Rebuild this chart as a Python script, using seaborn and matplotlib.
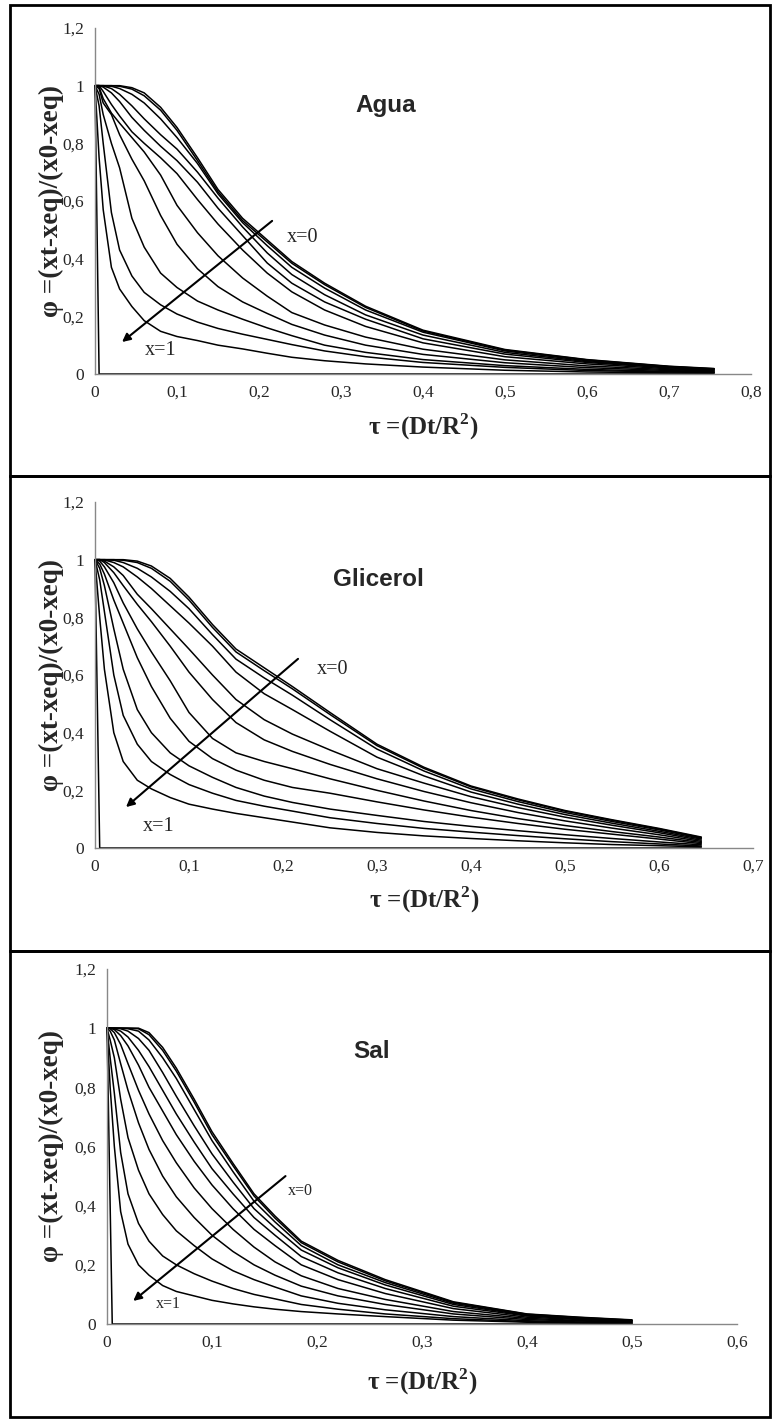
import numpy as np
import pandas as pd
import matplotlib
matplotlib.use("Agg")
import matplotlib.pyplot as plt
from matplotlib.patches import Rectangle
from matplotlib.ticker import FuncFormatter
import seaborn as sns

sns.set_style("white")
plt.rcParams['font.family'] = ['Liberation Serif', 'DejaVu Serif']
plt.rcParams['mathtext.fontset'] = 'custom'
plt.rcParams['mathtext.rm'] = 'Liberation Serif'
plt.rcParams['mathtext.bf'] = 'Liberation Serif:bold'

# ---------- data ----------
# curves from x=0 (top) to x=0.9 (bottom); x=1 is the near-vertical line
agua_tau = [0, 0.005, 0.01, 0.02, 0.03, 0.045, 0.06, 0.08, 0.10, 0.125, 0.15,
            0.18, 0.21, 0.24, 0.28, 0.33, 0.40, 0.50, 0.60, 0.70, 0.755]
agua_phi = [
    [1, 1, 1, 1, 1, 0.993, 0.975, 0.925, 0.855, 0.75, 0.64, 0.54, 0.465, 0.39, 0.315, 0.235, 0.152, 0.085, 0.05, 0.027, 0.019],
    [1, 1, 1, 1, 0.998, 0.988, 0.965, 0.915, 0.845, 0.74, 0.632, 0.532, 0.458, 0.384, 0.31, 0.231, 0.149, 0.083, 0.049, 0.026, 0.018],
    [1, 1, 1, 0.998, 0.99, 0.97, 0.94, 0.885, 0.82, 0.73, 0.625, 0.525, 0.445, 0.37, 0.298, 0.222, 0.145, 0.08, 0.046, 0.025, 0.017],
    [1, 1, 0.999, 0.99, 0.97, 0.93, 0.885, 0.83, 0.78, 0.70, 0.61, 0.51, 0.42, 0.345, 0.275, 0.205, 0.135, 0.075, 0.043, 0.023, 0.016],
    [1, 1, 0.995, 0.975, 0.945, 0.89, 0.845, 0.79, 0.74, 0.665, 0.575, 0.48, 0.385, 0.315, 0.25, 0.19, 0.122, 0.069, 0.04, 0.021, 0.014],
    [1, 1, 0.98, 0.935, 0.895, 0.84, 0.8, 0.75, 0.695, 0.605, 0.52, 0.43, 0.35, 0.285, 0.222, 0.165, 0.108, 0.06, 0.035, 0.018, 0.012],
    [1, 0.995, 0.955, 0.905, 0.87, 0.82, 0.77, 0.69, 0.585, 0.49, 0.41, 0.333, 0.27, 0.213, 0.17, 0.128, 0.086, 0.049, 0.028, 0.015, 0.01],
    [1, 0.99, 0.94, 0.9, 0.83, 0.745, 0.67, 0.55, 0.45, 0.365, 0.303, 0.25, 0.21, 0.172, 0.135, 0.1, 0.068, 0.039, 0.022, 0.012, 0.008],
    [1, 0.97, 0.9, 0.8, 0.715, 0.54, 0.44, 0.35, 0.3, 0.253, 0.222, 0.19, 0.16, 0.133, 0.1, 0.075, 0.05, 0.029, 0.016, 0.009, 0.006],
    [1, 0.93, 0.8, 0.56, 0.43, 0.34, 0.283, 0.24, 0.208, 0.18, 0.158, 0.138, 0.12, 0.102, 0.08, 0.06, 0.04, 0.023, 0.012, 0.007, 0.005],
    [1, 0.75, 0.57, 0.37, 0.295, 0.234, 0.185, 0.148, 0.13, 0.116, 0.1, 0.087, 0.072, 0.058, 0.046, 0.035, 0.024, 0.013, 0.007, 0.004, 0.003],
]
agua_surface = ([0, 0.005, 0.755], [1, 0, 0])

glic_tau = [0, 0.005, 0.01, 0.02, 0.03, 0.045, 0.06, 0.08, 0.10, 0.125, 0.15,
            0.18, 0.21, 0.25, 0.30, 0.35, 0.40, 0.45, 0.50, 0.55, 0.60, 0.645]
glic_phi = [
    [1, 1, 1, 1, 1, 0.995, 0.978, 0.935, 0.87, 0.775, 0.69, 0.625, 0.56, 0.47, 0.36, 0.28, 0.215, 0.17, 0.13, 0.098, 0.068, 0.038],
    [1, 1, 1, 1, 0.998, 0.99, 0.97, 0.925, 0.86, 0.765, 0.68, 0.615, 0.552, 0.463, 0.355, 0.276, 0.212, 0.167, 0.128, 0.096, 0.066, 0.036],
    [1, 1, 1, 0.998, 0.99, 0.97, 0.94, 0.89, 0.83, 0.74, 0.655, 0.59, 0.53, 0.445, 0.343, 0.267, 0.205, 0.161, 0.123, 0.092, 0.063, 0.034],
    [1, 1, 0.999, 0.99, 0.975, 0.94, 0.9, 0.84, 0.78, 0.7, 0.61, 0.535, 0.48, 0.405, 0.315, 0.25, 0.194, 0.152, 0.116, 0.086, 0.058, 0.031],
    [1, 1, 0.995, 0.975, 0.945, 0.88, 0.83, 0.76, 0.69, 0.6, 0.515, 0.445, 0.395, 0.34, 0.275, 0.225, 0.178, 0.14, 0.107, 0.079, 0.053, 0.027],
    [1, 1, 0.99, 0.955, 0.91, 0.845, 0.785, 0.7, 0.61, 0.515, 0.435, 0.375, 0.335, 0.29, 0.24, 0.196, 0.157, 0.123, 0.094, 0.069, 0.046, 0.023],
    [1, 0.995, 0.975, 0.92, 0.85, 0.76, 0.68, 0.58, 0.47, 0.38, 0.33, 0.3, 0.275, 0.24, 0.2, 0.163, 0.13, 0.102, 0.078, 0.057, 0.038, 0.019],
    [1, 0.985, 0.95, 0.86, 0.78, 0.66, 0.56, 0.45, 0.37, 0.31, 0.27, 0.235, 0.21, 0.19, 0.16, 0.132, 0.107, 0.085, 0.065, 0.048, 0.031, 0.015],
    [1, 0.97, 0.91, 0.76, 0.62, 0.48, 0.4, 0.33, 0.285, 0.245, 0.21, 0.18, 0.158, 0.135, 0.113, 0.092, 0.075, 0.06, 0.046, 0.033, 0.021, 0.011],
    [1, 0.93, 0.82, 0.6, 0.46, 0.36, 0.3, 0.255, 0.22, 0.19, 0.165, 0.145, 0.128, 0.105, 0.085, 0.068, 0.055, 0.043, 0.032, 0.022, 0.014, 0.007],
    [1, 0.8, 0.62, 0.4, 0.3, 0.235, 0.205, 0.175, 0.152, 0.135, 0.12, 0.105, 0.09, 0.07, 0.054, 0.042, 0.033, 0.025, 0.018, 0.012, 0.008, 0.004],
]
glic_surface = ([0, 0.005, 0.645], [1, 0, 0])

sal_tau = [0, 0.003, 0.007, 0.013, 0.02, 0.03, 0.04, 0.053, 0.066, 0.083, 0.10,
           0.12, 0.14, 0.16, 0.185, 0.22, 0.265, 0.33, 0.40, 0.45, 0.50]
sal_phi = [
    [1, 1, 1, 1, 1, 1, 0.985, 0.935, 0.865, 0.76, 0.65, 0.543, 0.44, 0.365, 0.28, 0.215, 0.15, 0.075, 0.034, 0.023, 0.014],
    [1, 1, 1, 1, 1, 0.998, 0.978, 0.925, 0.855, 0.75, 0.64, 0.535, 0.433, 0.358, 0.275, 0.21, 0.146, 0.073, 0.033, 0.022, 0.013],
    [1, 1, 1, 1, 0.998, 0.99, 0.96, 0.9, 0.83, 0.725, 0.62, 0.515, 0.415, 0.345, 0.265, 0.2, 0.14, 0.07, 0.031, 0.02, 0.012],
    [1, 1, 1, 0.998, 0.99, 0.965, 0.925, 0.85, 0.77, 0.67, 0.575, 0.48, 0.39, 0.325, 0.25, 0.19, 0.132, 0.066, 0.029, 0.019, 0.011],
    [1, 1, 0.998, 0.99, 0.97, 0.925, 0.87, 0.79, 0.71, 0.615, 0.525, 0.44, 0.36, 0.3, 0.228, 0.173, 0.12, 0.06, 0.027, 0.017, 0.01],
    [1, 1, 0.995, 0.975, 0.94, 0.875, 0.8, 0.72, 0.64, 0.55, 0.47, 0.39, 0.32, 0.265, 0.2, 0.15, 0.103, 0.052, 0.023, 0.015, 0.009],
    [1, 0.998, 0.985, 0.945, 0.88, 0.79, 0.71, 0.62, 0.545, 0.46, 0.39, 0.32, 0.26, 0.21, 0.163, 0.12, 0.083, 0.042, 0.019, 0.012, 0.007],
    [1, 0.99, 0.96, 0.88, 0.79, 0.68, 0.59, 0.5, 0.43, 0.36, 0.3, 0.245, 0.2, 0.165, 0.128, 0.095, 0.066, 0.034, 0.015, 0.01, 0.006],
    [1, 0.96, 0.9, 0.76, 0.63, 0.52, 0.44, 0.37, 0.315, 0.265, 0.22, 0.18, 0.15, 0.125, 0.095, 0.07, 0.048, 0.025, 0.011, 0.007, 0.004],
    [1, 0.9, 0.78, 0.58, 0.44, 0.34, 0.28, 0.23, 0.2, 0.17, 0.145, 0.12, 0.1, 0.085, 0.066, 0.05, 0.034, 0.018, 0.008, 0.005, 0.003],
    [1, 0.8, 0.6, 0.38, 0.27, 0.2, 0.165, 0.13, 0.11, 0.095, 0.08, 0.068, 0.058, 0.05, 0.042, 0.034, 0.025, 0.013, 0.006, 0.004, 0.002],
]
sal_surface = ([0, 0.005, 0.5], [1, 0, 0])

titles = ["Agua", "Glicerol", "Sal"]
xmax = [0.8, 0.7, 0.6]


def to_long(tau, phi, surface):
    rows = []
    for i, ys in enumerate(phi):
        for t, y in zip(tau, ys):
            rows.append((i, t, y))
    for t, y in zip(*surface):
        rows.append((len(phi), t, y))
    return pd.DataFrame(rows, columns=["curve", "tau", "phi"])


panels = [to_long(agua_tau, agua_phi, agua_surface),
          to_long(glic_tau, glic_phi, glic_surface),
          to_long(sal_tau, sal_phi, sal_surface)]

# ---------- layout (pixels of a 772x1421 canvas) ----------
W, H = 772, 1421
fig = plt.figure(figsize=(W / 100, H / 100), dpi=100)

axes_px = [(95, 28, 751, 374), (95, 502, 753, 848), (107, 969, 737, 1324)]
boxes_px = [(10, 5, 770, 476), (10, 476, 770, 951), (10, 951, 770, 1417)]
arrows = [((0.216, 0.531), (0.033, 0.111)),
          ((0.216, 0.656), (0.033, 0.142)),
          ((0.170, 0.500), (0.025, 0.078))]
lbl0 = [(0.234, 0.472), (0.236, 0.62), (0.172, 0.449)]
lbl1 = [(0.061, 0.08), (0.051, 0.076), (0.047, 0.068)]
lbl_size = [14.5, 14.5, 11.5]
title_pos = [(0.354, 0.93), (0.302, 0.93), (0.252, 0.922)]
ylab_x = [-0.066, -0.066, -0.088]
xlab_y = [-0.153, -0.150, -0.163]

for x0, y0, x1, y1 in boxes_px:
    fig.patches.append(Rectangle((x0 / W, 1 - y1 / H), (x1 - x0) / W, (y1 - y0) / H,
                                 transform=fig.transFigure, fill=False,
                                 ec="black", lw=2))

fmt = FuncFormatter(lambda v, p: f"{v:g}".replace(".", ","))

for k, df in enumerate(panels):
    l, t, r, b = axes_px[k]
    ax = fig.add_axes([l / W, 1 - b / H, (r - l) / W, (b - t) / H])
    ax.patch.set_alpha(0)

    sns.lineplot(data=df, x="tau", y="phi", units="curve", estimator=None,
                 sort=False, color="black", lw=1.1, ax=ax, legend=False)
    for line in ax.lines:
        line.set_clip_on(False)

    ax.set_xlim(0, xmax[k])
    ax.set_ylim(0, 1.2)
    ax.set_xticks(np.arange(0, xmax[k] + 0.001, 0.1))
    ax.set_yticks(np.arange(0, 1.21, 0.2))
    ax.xaxis.set_major_formatter(fmt)
    ax.yaxis.set_major_formatter(fmt)
    ax.tick_params(direction="in", length=4, width=1, color="#888888",
                   labelsize=12.5, pad=8)
    for s in ["top", "right"]:
        ax.spines[s].set_visible(False)
    for s in ["left", "bottom"]:
        ax.spines[s].set_color("#888888")
        ax.spines[s].set_linewidth(1)

    ax.set_ylabel("φ =(xt-xeq)/(x0-xeq)", fontsize=19.5, fontweight="bold")
    ax.yaxis.set_label_coords(ylab_x[k], 0.5)
    ax.yaxis.label.set_va("center")
    ax.set_xlabel(r"τ =(Dt/R$^{\mathbf{2}}$)", fontsize=18, fontweight="bold")
    ax.xaxis.set_label_coords(0.5, xlab_y[k])
    ax.xaxis.label.set_va("center")

    (sx, sy), (ex, ey) = arrows[k]
    ax.annotate("", xy=(ex, ey), xytext=(sx, sy),
                arrowprops=dict(arrowstyle="-|>", color="black", lw=1.5,
                                mutation_scale=12, shrinkA=0, shrinkB=0))
    ax.text(*lbl0[k], "x=0", fontsize=lbl_size[k], ha="left", va="center")
    ax.text(*lbl1[k], "x=1", fontsize=lbl_size[k], ha="left", va="center")
    ax.text(*title_pos[k], titles[k], fontsize=17.5, fontweight="bold",
            family=["Liberation Sans", "DejaVu Sans"], ha="center", va="center")

fig.savefig("out.png", dpi=100)
